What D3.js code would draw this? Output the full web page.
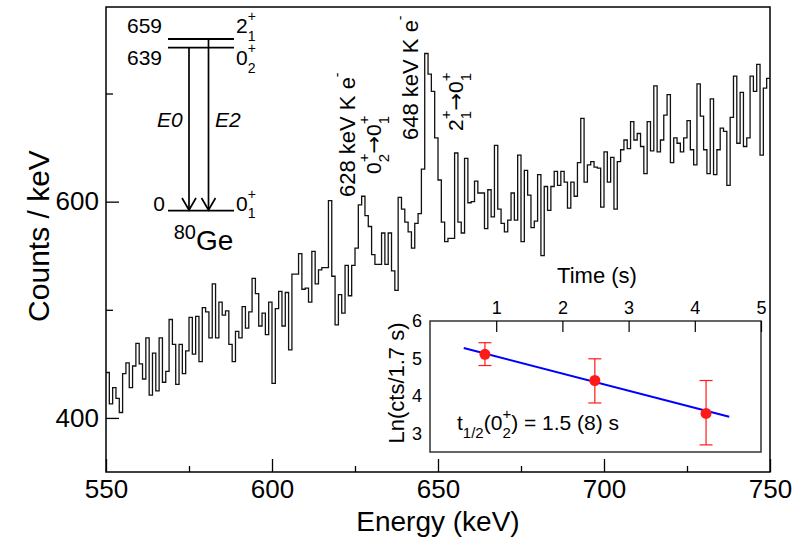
<!DOCTYPE html>
<html>
<head>
<meta charset="utf-8">
<script src="https://cdn.jsdelivr.net/npm/d3@7"></script>
<style>
  html, body { margin: 0; padding: 0; background: #fff; }
  svg { display: block; font-family: "Liberation Sans", Arial, Helvetica, sans-serif; }
</style>
</head>
<body>
<svg id="chart" width="811" height="539"></svg>
<script>
// Spectrum: counts per 1 keV bin, starting at 550 keV
const binStart = 550;
const binWidth = 1;
const counts = [
  442,413,428,418,405,441,451,428,448,469,
  450,436,474,421,460,425,474,433,443,491,
  468,431,468,441,462,493,459,494,452,502,
  498,474,524,474,507,495,499,468,452,480,
  474,503,483,498,529,515,485,497,477,507,
  432,501,517,485,516,463,533,533,552,519,
  520,507,554,524,537,539,539,601,531,486,
  514,497,541,513,541,557,597,605,587,577,
  551,542,542,571,542,571,536,518,604,593,
  581,572,557,580,589,630,737,718,702,659,
  620,581,563,566,566,645,581,571,640,599,
  600,619,608,608,575,611,586,652,593,580,
  572,583,608,583,643,563,629,606,576,582,
  625,550,614,592,614,628,615,628,618,594,
  618,605,636,677,618,634,637,632,631,595,
  646,618,641,593,637,648,657,649,674,657,
  663,651,626,674,647,707,646,657,680,699,
  636,659,654,646,659,675,648,634,709,679,
  648,626,695,625,648,668,665,615,678,716,
  654,701,651,659,716,702,727,643,705,714
];
const energyTicks = [550, 600, 650, 700, 750];
const energyMinor = [575, 625, 675, 725];
const countTicks = [400, 600];
const countMinor = [500, 700];

// Decay curve of the 0+2 state
const times = [0.83, 2.49, 4.17];
const lnCounts = [5.11, 4.41, 3.53];
const errLow = [4.81, 3.81, 2.69];
const errHigh = [5.42, 4.99, 4.41];
const fitLine = [[0.51, 5.28], [4.52, 3.44]];
const timeTicks = [1, 2, 3, 4, 5];
const lnTicks = [3, 4, 5, 6];

const svg = d3.select("#chart");
svg.append("rect").attr("width", 811).attr("height", 539).attr("fill", "#fff");

const plotL = 106, plotR = 770, plotT = 7, plotB = 472;
const x = d3.scaleLinear().domain([550, 750]).range([plotL, plotR]);
const y = d3.scaleLinear().domain([350, 780]).range([plotB, plotT]);

// Text with stacked superscript / subscript pieces
function richText(g, x0, y0, parts, size, opts = {}) {
  const small = opts.small || Math.round(size * 0.7);
  const supDy = opts.supDy != null ? opts.supDy : -0.57 * size;
  const subDy = opts.subDy != null ? opts.subDy : 0.37 * size;
  let cx = x0;
  parts.forEach(p => {
    if (typeof p === "string") {
      const t = g.append("text").attr("x", cx).attr("y", y0)
        .attr("font-size", size).attr("fill", "#000")
        .style("white-space", "pre").text(p);
      cx += t.node().getComputedTextLength();
    } else if (p.arrow) {
      const t = g.append("text").attr("x", cx).attr("y", y0)
        .attr("font-size", size).attr("fill", "#000")
        .attr("font-family", "DejaVu Sans").text("\u2192");
      cx += t.node().getComputedTextLength();
    } else {
      let w = 0;
      if (p.sup) {
        const t = g.append("text").attr("x", cx).attr("y", y0 + supDy)
          .attr("font-size", small).attr("fill", "#000").text(p.sup);
        w = Math.max(w, t.node().getComputedTextLength());
      }
      if (p.sub) {
        const t = g.append("text").attr("x", cx).attr("y", y0 + subDy)
          .attr("font-size", small).attr("fill", "#000").text(p.sub);
        w = Math.max(w, t.node().getComputedTextLength());
      }
      cx += w;
    }
  });
  return cx;
}

// Histogram
const histPts = counts.map((c, i) => [binStart + i * binWidth, c]);
histPts.push([binStart + counts.length * binWidth, counts[counts.length - 1]]);
svg.append("path")
  .attr("d", d3.line().x(d => x(d[0])).y(d => y(d[1])).curve(d3.curveStepAfter)(histPts))
  .attr("fill", "none").attr("stroke", "#111").attr("stroke-width", 1.3);

// Axes
const fontTick = 26;
const gx = svg.append("g").attr("transform", `translate(0,${plotB})`)
  .call(d3.axisBottom(x).tickValues(energyTicks).tickSizeInner(-13).tickSizeOuter(0).tickPadding(8));
const gxm = svg.append("g").attr("transform", `translate(0,${plotB})`)
  .call(d3.axisBottom(x).tickValues(energyMinor).tickSizeInner(-6).tickSizeOuter(0).tickFormat(""));
const gy = svg.append("g").attr("transform", `translate(${plotL},0)`)
  .call(d3.axisLeft(y).tickValues(countTicks).tickSizeInner(-13).tickSizeOuter(0).tickPadding(7));
const gym = svg.append("g").attr("transform", `translate(${plotL},0)`)
  .call(d3.axisLeft(y).tickValues(countMinor).tickSizeInner(-7).tickSizeOuter(0).tickFormat(""));
[gx, gxm, gy, gym].forEach(g => {
  g.select(".domain").remove();
  g.selectAll(".tick line").attr("stroke", "#000").attr("stroke-width", 1.3);
  g.selectAll("text").attr("font-size", fontTick).attr("fill", "#000").attr("font-family", null);
});
svg.append("rect").attr("x", plotL).attr("y", plotT).attr("width", plotR - plotL).attr("height", plotB - plotT)
  .attr("fill", "none").attr("stroke", "#000").attr("stroke-width", 1.5);

svg.append("text").attr("x", 438).attr("y", 531).attr("text-anchor", "middle")
  .attr("font-size", 28).attr("fill", "#000").text("Energy (keV)");
svg.append("text").attr("transform", "translate(49,236) rotate(-90)").attr("text-anchor", "middle")
  .attr("font-size", 30).attr("fill", "#000").text("Counts / keV");

// Level scheme of 80Ge
const ls = svg.append("g");
const levelX0 = 168, levelX1 = 234;
const levels = [
  { energy: "659", y: 39, spin: "2", sup: "+", sub: "1", ty: 33.3 },
  { energy: "639", y: 47.7, spin: "0", sup: "+", sub: "2", ty: 65 },
  { energy: "0", y: 210.7, spin: "0", sup: "+", sub: "1", ty: 210.5 }
];
levels.forEach(l => {
  ls.append("line").attr("x1", levelX0).attr("x2", levelX1).attr("y1", l.y).attr("y2", l.y)
    .attr("stroke", "#000").attr("stroke-width", 1.8);
  ls.append("text").attr("x", l.energy === "0" ? 165 : 162).attr("y", l.ty)
    .attr("text-anchor", "end").attr("font-size", 21).attr("fill", "#000").text(l.energy);
  richText(ls, 236, l.ty, [l.spin, { sup: l.sup, sub: l.sub }], 21, { small: 14, supDy: -12, subDy: 7.5 });
});
const transitions = [
  { x: 189, y0: 47.7, name: "E0", tx: 157 },
  { x: 208.5, y0: 39, name: "E2", tx: 215 }
];
transitions.forEach(t => {
  ls.append("line").attr("x1", t.x).attr("x2", t.x).attr("y1", t.y0).attr("y2", 210)
    .attr("stroke", "#000").attr("stroke-width", 1.7);
  ls.append("path").attr("d", `M${t.x - 7},${198} L${t.x},${210} L${t.x + 7},${198}`)
    .attr("fill", "none").attr("stroke", "#000").attr("stroke-width", 1.7);
  ls.append("text").attr("x", t.tx).attr("y", 126.5).attr("font-size", 21)
    .attr("font-style", "italic").attr("fill", "#000").text(t.name);
});
ls.append("text").attr("x", 196).attr("y", 239).attr("text-anchor", "end")
  .attr("font-size", 20).attr("fill", "#000").text("80");
ls.append("text").attr("x", 196).attr("y", 250).attr("font-size", 28).attr("fill", "#000").text("Ge");

// Peak annotations (rotated)
function rotated(px, py) {
  return svg.append("g").attr("transform", `translate(${px},${py}) rotate(-90)`);
}
richText(rotated(355, 197), 0, 0, ["628 keV K e", { sup: "-" }], 22, { small: 14, supDy: -13 });
richText(rotated(381, 174), 0, 0, ["0", { sup: "+", sub: "2" }, { arrow: true }, "0", { sup: "+", sub: "1" }], 21, { small: 15, supDy: -12, subDy: 8 });
richText(rotated(418, 140), 0, 0, ["648 keV K e", { sup: "-" }], 22, { small: 14, supDy: -13 });
richText(rotated(463, 131), 0, 0, ["2", { sup: "+", sub: "1" }, { arrow: true }, "0", { sup: "+", sub: "1" }], 21, { small: 15, supDy: -12, subDy: 8 });

// Inset: decay of the 0+2 state
const iL = 430, iR = 761, iT = 321, iB = 452;
const tx = d3.scaleLinear().domain([0, 5]).range([iL, iR]);
const ty = d3.scaleLinear().domain([2.5, 6]).range([iB, iT]);
const inset = svg.append("g");
inset.append("rect").attr("x", iL).attr("y", iT).attr("width", iR - iL).attr("height", iB - iT)
  .attr("fill", "#fff").attr("stroke", "#333").attr("stroke-width", 1.5);
const gt = inset.append("g").attr("transform", `translate(0,${iT})`)
  .call(d3.axisTop(tx).tickValues(timeTicks).tickFormat(d3.format("d"))
    .tickSizeInner(-11).tickSizeOuter(0).tickPadding(7));
const gl = inset.append("g").attr("transform", `translate(${iL},0)`)
  .call(d3.axisLeft(ty).tickValues(lnTicks).tickFormat(d3.format("d"))
    .tickSizeInner(0).tickSizeOuter(0).tickPadding(8));
[gt, gl].forEach(g => {
  g.select(".domain").remove();
  g.selectAll(".tick line").attr("stroke", "#000").attr("stroke-width", 1.2);
  g.selectAll("text").attr("font-size", 18).attr("fill", "#000").attr("font-family", null);
});
inset.append("text").attr("x", 597).attr("y", 283).attr("text-anchor", "middle")
  .attr("font-size", 22).attr("fill", "#000").text("Time (s)");
inset.append("text").attr("transform", "translate(404,383) rotate(-90)").attr("text-anchor", "middle")
  .attr("font-size", 22).attr("fill", "#000").text("Ln(cts/1.7 s)");

inset.append("path").attr("d", d3.line().x(d => tx(d[0])).y(d => ty(d[1]))(fitLine))
  .attr("stroke", "#0000ff").attr("stroke-width", 2).attr("fill", "none");

const red = "#ff1a1a";
times.forEach((t, i) => {
  const cx = tx(t);
  inset.append("line").attr("x1", cx).attr("x2", cx).attr("y1", ty(errLow[i])).attr("y2", ty(errHigh[i]))
    .attr("stroke", red).attr("stroke-width", 1.2);
  [errLow[i], errHigh[i]].forEach(v => {
    inset.append("line").attr("x1", cx - 6.5).attr("x2", cx + 6.5).attr("y1", ty(v)).attr("y2", ty(v))
      .attr("stroke", red).attr("stroke-width", 1.2);
  });
  inset.append("circle").attr("cx", cx).attr("cy", ty(lnCounts[i])).attr("r", 5.5).attr("fill", red);
});

richText(inset, 457, 430, ["t", { sub: "1/2" }, "(0", { sup: "+", sub: "2" }, ") = 1.5 (8) s"], 21, { small: 15, supDy: -11.5, subDy: 8 });
</script>
</body>
</html>
